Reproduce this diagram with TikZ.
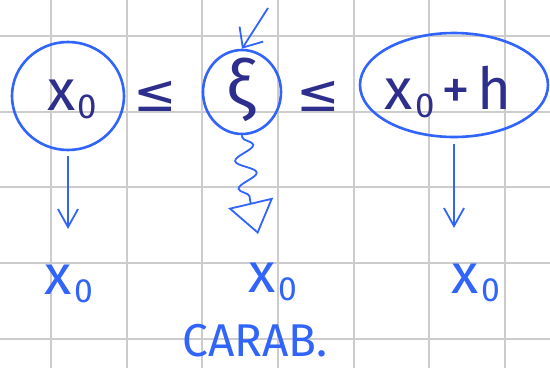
\documentclass[tikz,border=0pt]{standalone}
\usepackage{graphicx}
\usepackage{fontspec}
\setmainfont{Fira Sans}
\newfontfamily\symfont{DejaVu Sans}
\usetikzlibrary{shapes.geometric,arrows.meta,decorations.pathmorphing}
\definecolor{pen}{RGB}{48,100,250}
\definecolor{ink}{RGB}{46,46,140}
\newcommand\xz{x\kern0.04em\raisebox{-0.14em}{\scalebox{0.6}{0}}}
\tikzset{
  gridline/.style={draw=black!20, line width=2pt},
  ring/.style={draw=pen, line width=2.6pt, ellipse, inner sep=0pt},
  topt/.style={text=ink, inner sep=0pt, font=\fontsize{58}{58}\selectfont},
  rel/.style={text=ink, inner sep=0pt, font=\symfont\fontsize{52}{52}\selectfont},
  bott/.style={text=pen, inner sep=0pt, font=\fontsize{56}{56}\selectfont},
  downarrow/.style={draw=pen, line width=1.8pt, -{Straight Barb[length=18pt,width=20pt,line width=1.8pt]}},
}
\begin{document}
\begin{tikzpicture}[x=1pt,y=-1pt]
\useasboundingbox[fill=white] (0,0) rectangle (550,368);
% grid
\foreach \gx in {51,127,202,278,354,429,505} \draw[gridline] (\gx,0) -- (\gx,368);
\foreach \gy in {36,112,187,263,339} \draw[gridline] (0,\gy) -- (550,\gy);
% rings
\node[ring, minimum width=112pt, minimum height=108pt] (c1) at (68,96) {};
\node[ring, minimum width=78pt, minimum height=84pt] (c2) at (242,92) {};
\node[ring, minimum width=188pt, minimum height=104pt] (c3) at (454,85) {};
% top texts
\node[topt] (t1) at (72,99) {\xz};
\node[rel] (r1) at (155,96) {≤};
\node[topt, font=\fontsize{66}{66}\selectfont] (t2) at (241,90) {ξ};
\node[rel] (r2) at (318,96) {≤};
\node[topt] (t3) at (448,92) {\xz\kern0.12em+\kern0.12em h};
% bottom texts
\node[bott] (b1) at (69,284) {\xz};
\node[bott] (b2) at (273,282) {\xz};
\node[bott] (b3) at (476,283) {\xz};
\node[text=pen, inner sep=0pt, font=\fontsize{46}{46}\selectfont] (carab) at (255,341) {CARAB.};
% arrows
\draw[downarrow, shorten <=5pt, shorten >=36pt] (c1.south) -- (c1.south |- b1.north);
\draw[downarrow, shorten <=6pt, shorten >=36pt] (c3.south) -- (c3.south |- b3.north);
\coordinate (in) at (268,8);
\draw[draw=pen, line width=1.8pt, -{Straight Barb[length=16pt,width=28pt,line width=1.8pt]}] (in) -- (c2.north);
\coordinate (mid) at (250,200);
\coordinate (tip) at (258,234);
\draw[draw=pen, line width=1.8pt, -{Triangle[open,length=32pt,width=46pt,line width=1.8pt]}]
  (c2.south) decorate[decoration={snake, amplitude=10pt, segment length=28pt, pre length=2pt, post length=2pt}] {-- (mid)} -- (tip);
\end{tikzpicture}
\end{document}
